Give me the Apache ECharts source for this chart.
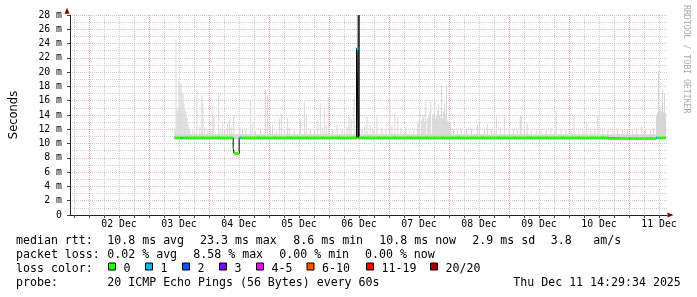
<!DOCTYPE html>
<html><head><meta charset="utf-8">
<script src="https://cdn.jsdelivr.net/npm/echarts@6/dist/echarts.min.js"></script>
<style>html,body{margin:0;padding:0;background:#fff}#c{width:697px;height:297px}</style>
</head><body><div id="c"></div>
<script>
// ---------- data (time in hours since 01 Dec 00:00, values in ms) ----------
const dayLabelHours = [36, 60, 84, 108, 132, 156, 180, 204, 228, 252];
const dayLabels = ['02 Dec','03 Dec','04 Dec','05 Dec','06 Dec','07 Dec','08 Dec','09 Dec','10 Dec','11 Dec'];
const yLabels = ['0','2 m','4 m','6 m','8 m','10 m','12 m','14 m','16 m','18 m','20 m','22 m','24 m','26 m','28 m'];

const smokeFloor = 10.7;
const smokeTimes = [57.2,57.6,58.0,58.4,58.8,59.2,59.6,60.0,60.4,60.8,61.2,61.6,62.0,62.4,62.8,63.2,64.4,66.0,67.2,68.0,
  68.4,69.2,70.4,71.6,72.4,72.8,74.8,75.6,76.4,77.2,78.4,79.2,80.0,80.8,83.2,84.4,85.6,87.6,88.4,89.6,
  91.6,93.6,94.4,95.6,96.4,98.0,99.2,100.0,101.2,102.4,103.2,105.2,107.6,109.2,110.0,111.6,113.2,114.4,115.6,116.4,
  117.2,118.0,118.8,120.4,122.4,124.4,126.4,127.2,128.0,129.2,130.0,132.4,133.6,134.4,135.6,136.8,138.4,140.4,142.0,143.6,
  144.4,145.6,146.8,148.0,150.0,151.6,153.2,154.8,155.2,155.6,156.4,156.8,157.2,157.6,158.0,158.8,159.2,159.6,160.0,160.8,
  161.2,161.6,162.0,162.4,162.8,163.2,163.6,164.0,164.4,164.8,165.2,165.6,166.0,166.4,166.8,167.2,168.0,169.2,170.8,172.4,
  174.4,176.4,178.8,179.6,181.6,182.8,184.4,186.4,188.0,189.6,191.6,193.2,194.8,196.0,196.4,197.6,198.8,200.4,202.4,204.4,
  206.4,208.4,210.4,212.4,214.4,216.4,217.6,219.6,221.2,222.8,224.4,226.0,227.2,229.2,231.2,233.2,235.2,237.2,239.2,241.2,
  242.8,244.8,246.4,248.4,249.6,250.8,251.2,251.6,252.0,252.4,252.8,253.2,253.6,254.0,254.4];
const smokeTops = [12.0,24.5,15.0,14.6,18.8,15.2,18.4,17.2,17.0,15.5,14.8,14.4,13.6,12.8,12.3,11.8,12.0,17.5,12.4,16.8,
  15.6,12.3,11.9,12.2,15.4,13.9,17.0,12.0,12.9,11.9,12.9,13.5,12.2,13.9,12.3,11.9,11.8,16.0,12.8,11.8,
  12.0,17.5,16.8,12.4,12.6,11.8,13.5,14.2,12.0,13.5,12.3,11.8,13.5,15.8,14.2,11.9,12.0,13.4,15.6,12.2,
  14.7,12.6,16.6,12.0,12.6,11.9,12.3,13.8,13.5,16.6,12.5,11.9,12.6,13.8,12.6,11.9,14.0,12.2,11.9,16.4,
  12.5,14.2,13.8,12.2,12.3,11.8,12.0,12.8,13.2,14.7,13.2,13.6,14.0,13.0,15.8,13.5,13.8,14.4,15.8,13.8,
  14.2,16.1,13.4,14.0,14.6,15.5,14.0,13.6,18.1,13.5,14.5,15.6,14.2,18.1,13.2,13.0,12.8,12.0,11.8,12.0,
  11.9,12.1,12.6,13.2,11.9,12.8,12.0,13.8,12.0,14.2,11.8,12.0,11.9,13.9,13.8,12.1,12.9,11.8,11.9,12.0,
  11.8,12.1,14.7,12.0,11.9,12.1,13.8,11.9,12.0,12.9,11.8,12.2,13.9,12.0,11.9,11.8,12.0,11.9,12.0,11.8,
  12.0,12.4,11.9,12.0,12.2,13.8,14.4,20.2,14.6,15.0,14.5,17.5,14.5,17.0,14.3];
const smokeBand = [[57.2, 254.8, 10.6, 11.3]];
const darkSmoke = [[130.4, 130.8, 10.8, 23.3], [130.8, 131.7, 10.8, 30]];

const medianTimes  = [57.2, 60.0, 60.4, 80.8, 81.2, 83.2, 84.0, 130.4, 131.2, 231.6, 240.0, 240.4, 250.8, 251.2];
const medianValues = [10.8, 10.8, 10.8, 9.4,  8.6,  10.8, 10.8, 23.3,  10.8,  10.7,  10.7,  10.7,  10.8,  10.8];
const medianLoss   = [0,    1,    0,    0,    0,    1,    0,    1,     0,     0,     1,     0,     1,     0];
const medianEnd = 254.8;

const lossColors = ['#26ff00','#00b8ff','#0059ff','#7e00ff','#ff00ff','#ff5500','#ff0000','#a10000'];
const lossLabels = ['0','1','2','3','4-5','6-10','11-19','20/20'];

// ---------- chart ----------
const PIX_H = 0.4; // one graph column (24 min)
const chart = echarts.init(document.getElementById('c'), null, {renderer: 'canvas'});
const MONO = '"DejaVu Sans Mono", monospace';

function clipRect(params, r) {
  const cs = params.coordSys;
  return echarts.graphic.clipRectByRect(r, {x: cs.x, y: cs.y, width: cs.width, height: cs.height});
}

const smokeData = smokeTimes.map((t, i) => [t, t + PIX_H, smokeFloor, smokeTops[i]]);
const medianSegs = medianTimes.map((t, i) => [t, i + 1 < medianTimes.length ? medianTimes[i + 1] : medianEnd, medianValues[i], medianLoss[i]]);
const medianLine = medianTimes.map((t, i) => [t, medianValues[i]]).concat([[medianEnd, medianValues[medianValues.length - 1]]]);

function boxRender(fill) {
  return function (params, api) {
    const p0 = api.coord([api.value(0), api.value(3)]);
    const p1 = api.coord([api.value(1), api.value(2)]);
    const r = clipRect(params, {x: p0[0], y: p0[1], width: p1[0] - p0[0], height: p1[1] - p0[1]});
    return r && {type: 'rect', shape: r, style: {fill: fill}};
  };
}

const legendPieces = [
  [16, 241, 'median rtt:'], [107.3, 241, '10.8 ms avg'], [200, 241, '23.3 ms max'], [293.3, 241, '8.6 ms min'],
  [379.3, 241, '10.8 ms now'], [472.3, 241, '2.9 ms sd'], [550.7, 241, '3.8'], [593.3, 241, 'am/s'],
  [16, 255, 'packet loss:'], [107.3, 255, '0.02 % avg'], [193.3, 255, '8.58 % max'], [279.3, 255, '0.00 % min'], [365, 255, '0.00 % now'],
  [16, 269, 'loss color:'],
  [16, 283, 'probe:'], [107.3, 283, '20 ICMP Echo Pings (56 Bytes) every 60s'], [513.3, 283, 'Thu Dec 11 14:29:34 2025']
];
const boxX = [108.5, 145.5, 182.5, 219.5, 256.5, 307, 366.5, 430.5];
const graphics = [];
legendPieces.forEach(p => graphics.push({type: 'text', x: p[0], y: p[1], style: {text: p[2], font: '11.6px ' + MONO, fill: '#000', verticalAlign: 'middle'}}));
lossLabels.forEach((lab, i) => {
  graphics.push({type: 'rect', shape: {x: boxX[i], y: 263, width: 7, height: 7}, style: {fill: lossColors[i], stroke: '#000', lineWidth: 1}});
  graphics.push({type: 'text', x: boxX[i] + 15, y: 269, style: {text: lab, font: '11.6px ' + MONO, fill: '#000', verticalAlign: 'middle'}});
});
graphics.push({type: 'text', x: 686, y: 5, rotation: -Math.PI / 2, style: {text: 'RRDTOOL / TOBI OETIKER', font: '8.2px ' + MONO, fill: '#aaaaaa', align: 'left', verticalAlign: 'middle'}});

const GRAY = '#d2d2d2', RED = '#eebcbc';

chart.setOption({
  animation: false,
  backgroundColor: '#fff',
  grid: [
    {left: 67, top: 15, width: 600, height: 200},
    {left: 74, top: 15, width: 585, height: 200}
  ],
  xAxis: [
    {gridIndex: 0, type: 'value', min: 15.2, max: 255.2,
     axisLine: {show: true, lineStyle: {color: '#222', width: 1}}, axisTick: {show: false}, axisLabel: {show: false}, splitLine: {show: false}},
    {gridIndex: 1, type: 'value', min: 18, max: 252, interval: 6, position: 'bottom',
     axisLine: {show: true, lineStyle: {color: '#7f0000', width: 0}, symbol: ['none', 'triangle'], symbolSize: [5, 6], symbolOffset: [0, 11.5]},
     axisTick: {show: true, length: 3, lineStyle: {color: '#444'}},
     axisLabel: {show: true, margin: 4, fontFamily: MONO, fontSize: 9.8, color: '#000',
       formatter: v => { const k = dayLabelHours.indexOf(Math.round(v)); return k >= 0 ? dayLabels[k] : ''; }},
     splitLine: {show: true, lineStyle: {color: ['#c8c8c8', '#e8a4a4', '#c8c8c8', '#c8c8c8'], type: [1, 1], width: 1}}}
  ],
  yAxis: [
    {gridIndex: 0, type: 'value', min: 0, max: 28, interval: 2,
     name: 'Seconds', nameLocation: 'middle', nameGap: 50, nameRotate: 90,
     nameTextStyle: {fontFamily: '"DejaVu Sans", sans-serif', fontSize: 11.5, color: '#000'},
     axisLine: {show: true, lineStyle: {color: '#222'}},
     axisTick: {show: true, length: 3, lineStyle: {color: '#444'}},
     axisLabel: {margin: 8, fontFamily: MONO, fontSize: 9.8, color: '#000', formatter: v => yLabels[Math.round(v / 2)]},
     splitLine: {show: true, showMinLine: false, lineStyle: {color: RED, type: [1, 1]}},
     minorTick: {show: false, splitNumber: 2},
     minorSplitLine: {show: true, lineStyle: {color: GRAY, type: [1, 1]}}},
    {gridIndex: 1, type: 'value', min: 0, max: 28, position: 'left', offset: 7,
     axisLine: {show: true, lineStyle: {color: '#7f0000', width: 0}, symbol: ['none', 'triangle'], symbolSize: [5, 6], symbolOffset: [0, 4.2]},
     axisTick: {show: false}, axisLabel: {show: false}, splitLine: {show: false}}
  ],
  series: [
    {type: 'custom', xAxisIndex: 0, yAxisIndex: 0, z: 2, silent: true, data: smokeBand, renderItem: boxRender('#d8d8d8')},
    {type: 'custom', xAxisIndex: 0, yAxisIndex: 0, z: 2, silent: true, data: smokeData, renderItem: boxRender('#d6d6d6')},
    {type: 'custom', xAxisIndex: 0, yAxisIndex: 0, z: 3, silent: true, data: darkSmoke, renderItem: boxRender('#2e2e2e')},
    {type: 'line', xAxisIndex: 0, yAxisIndex: 0, z: 4, silent: true, step: 'end', showSymbol: false, data: medianLine,
     lineStyle: {color: '#000', width: 1}},
    {type: 'custom', xAxisIndex: 0, yAxisIndex: 0, z: 5, silent: true, data: medianSegs,
     renderItem: function (params, api) {
       const p0 = api.coord([api.value(0), api.value(2)]);
       const p1 = api.coord([api.value(1), api.value(2)]);
       return {type: 'rect', shape: {x: p0[0], y: p0[1] - 1.3, width: p1[0] - p0[0], height: 2.6},
               style: {fill: lossColors[api.value(3)]}};
     }}
  ],
  graphic: graphics
});
</script></body></html>
